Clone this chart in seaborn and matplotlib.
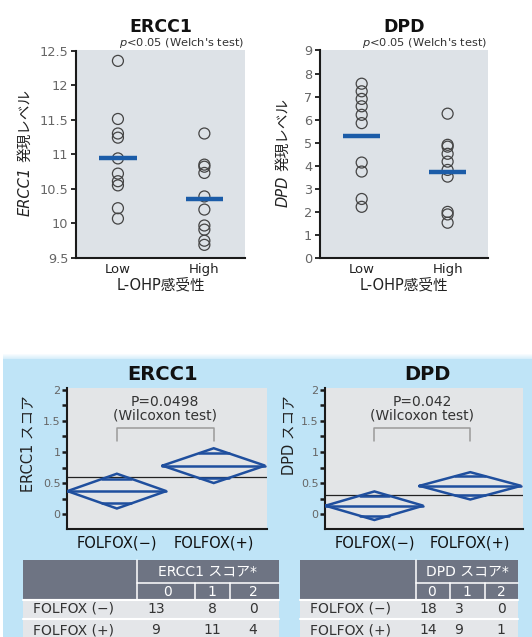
import numpy as np
import pandas as pd
import matplotlib
matplotlib.use('Agg')
import matplotlib.pyplot as plt
import seaborn as sns
from matplotlib.patches import Rectangle

# ---------------- data ----------------
top_groups = ['Low', 'High']
ercc1_low = [12.35, 11.51, 11.30, 11.24, 10.94, 10.72, 10.61, 10.55, 10.22, 10.07]
ercc1_high = [11.30, 10.85, 10.82, 10.73, 10.39, 10.20, 9.97, 9.91, 9.75, 9.69]
ercc1_top_mean = [10.95, 10.36]
dpd_low = [7.56, 7.23, 6.90, 6.58, 6.21, 5.85, 4.14, 3.75, 2.56, 2.22]
dpd_high = [6.26, 4.91, 4.83, 4.52, 4.18, 3.82, 3.53, 2.00, 1.89, 1.53]
dpd_top_mean = [5.30, 3.75]
ercc1_top_ticks = [9.5, 10, 10.5, 11, 11.5, 12, 12.5]
ercc1_top_ticklabels = ['9.5', '10', '10.5', '11', '11.5', '12', '12.5']
dpd_top_ticks = [0, 1, 2, 3, 4, 5, 6, 7, 8, 9]
dpd_top_ticklabels = [str(v) for v in dpd_top_ticks]

bottom_groups = ['FOLFOX(−)', 'FOLFOX(+)']
ercc1_score_mean = [0.37, 0.78]
ercc1_score_ci = [0.28, 0.28]
ercc1_grand_mean = 0.59
dpd_score_mean = [0.135, 0.455]
dpd_score_ci = [0.23, 0.22]
dpd_grand_mean = 0.30
diamond_halfwidth = [0.51, 0.53]
bottom_ticks = [0, 0.5, 1, 1.5, 2]
bottom_ticklabels = ['0', '0.5', '1', '1.5', '2']
bottom_minor = [0.25, 0.75, 1.25, 1.75]
ercc1_ptext = ['P=0.0498', '(Wilcoxon test)']
dpd_ptext = ['P=0.042', '(Wilcoxon test)']

table_rows = ['FOLFOX (−)', 'FOLFOX (+)']
score_levels = ['0', '1', '2']
ercc1_counts = [[13, 8, 0], [9, 11, 4]]
dpd_counts = [[18, 3, 0], [14, 9, 1]]

# ---------------- style ----------------
sns.set_theme(style='ticks')
plt.rcParams['font.family'] = ['DejaVu Sans', 'Noto Sans CJK JP']
plt.rcParams['mathtext.fontset'] = 'dejavusans'

W, H = 532, 637
fig = plt.figure(figsize=(W / 100, H / 100), dpi=100)
fig.patch.set_facecolor('white')


def px_rect(x0, y0, x1, y1):
    return [x0 / W, 1 - y1 / H, (x1 - x0) / W, (y1 - y0) / H]


def fy(y):
    return 1 - y / H


bg = fig.add_axes([0, 0, 1, 1], zorder=-10)
bg.set_xlim(0, W)
bg.set_ylim(H, 0)
bg.axis('off')
BLUE_BG = '#bfe4f7'
bg.add_patch(Rectangle((3, 359), W - 3, H - 359, color=BLUE_BG, lw=0))
for k in range(5):
    bg.add_patch(Rectangle((3, 354 + k), W - 3, 1, color=BLUE_BG, lw=0, alpha=0.12 * (k + 1)))

INK = '#1a1a1a'
MEAN_BLUE = '#1b5ca8'
DIAM_BLUE = '#1f4f9e'


def top_panel(rect, low, high, means, ticks, ticklabels, title, ylab_it, ylab_rest, ylab_x):
    ax = fig.add_axes(px_rect(*rect))
    df = pd.DataFrame({'group': ['Low'] * len(low) + ['High'] * len(high),
                       'value': low + high})
    sns.stripplot(data=df, x='group', y='value', order=top_groups, jitter=False,
                  size=7.9, color='white', edgecolor='#444444', linewidth=0.9,
                  ax=ax, zorder=2)
    for c in ax.collections:
        c.set_facecolor('none')
    xs = np.arange(len(top_groups))
    ax.hlines(means, xs - 0.215, xs + 0.215, color=MEAN_BLUE, lw=3.2, zorder=3)
    ax.set_xlim(-0.485, 1.47)
    ax.set_ylim(ticks[0], ticks[-1])
    ax.set_yticks(ticks)
    ax.set_yticklabels(ticklabels)
    ax.set_facecolor('#dde2e7')
    for s in ['top', 'right']:
        ax.spines[s].set_visible(False)
    for s in ['left', 'bottom']:
        ax.spines[s].set_linewidth(1.5)
        ax.spines[s].set_color(INK)
    ax.tick_params(axis='y', length=3.6, width=1.3, color=INK, labelcolor='#666666',
                   labelsize=9.3, pad=2)
    ax.tick_params(axis='x', length=0, labelsize=9.5, labelcolor='#222222', pad=3.6)
    ax.set_xlabel('')
    ax.set_ylabel('')
    x0, y0, x1, y1 = rect
    cx = (x0 + x1) / 2
    fig.text(cx / W, fy(31.7), title, ha='center', va='baseline', fontsize=12.5,
             fontweight='bold', color='#111111')
    fig.text(x1 / W - 1.5 / W, fy(45.7), r"$p$<0.05 (Welch's test)", ha='right',
             va='baseline', fontsize=8.2, color='#333333')
    fig.text(cx / W, fy(285), 'L-OHP感受性', ha='center', va='center',
             fontsize=10.5, color='#222222')
    # y label: italic gene name + normal text
    t1 = fig.text(ylab_x / W, fy(ylab_it), title, rotation=90, ha='center',
                  va='bottom', style='italic', fontsize=10.5, color='#222222')
    fig.canvas.draw()
    bb = t1.get_window_extent(fig.canvas.get_renderer())
    fig.text(ylab_x / W, (bb.y1 + 5) / H, ylab_rest, rotation=90, ha='center',
             va='bottom', fontsize=10.5, color='#222222')
    return ax


top_panel((76, 50.5, 245, 258), ercc1_low, ercc1_high, ercc1_top_mean,
          ercc1_top_ticks, ercc1_top_ticklabels, 'ERCC1', 216, '発現レベル', 25)
top_panel((320, 50.5, 488, 258), dpd_low, dpd_high, dpd_top_mean,
          dpd_top_ticks, dpd_top_ticklabels, 'DPD', 207, '発現レベル', 283)


def bottom_panel(rect, means, ci, grand, ylab, title, title_cx, ptext, ylab_x):
    ax = fig.add_axes(px_rect(*rect))
    ax.set_facecolor('#e3e5e7')
    for i, (m, h, w) in enumerate(zip(means, ci, diamond_halfwidth)):
        ax.plot([i - w, i, i + w, i, i - w], [m, m + h, m, m - h, m],
                color=DIAM_BLUE, lw=1.8, solid_joinstyle='miter', zorder=3)
        ax.plot([i - w, i + w], [m, m], color=DIAM_BLUE, lw=1.8, zorder=3)
        o = h / np.sqrt(2)
        f = 1 - o / h
        for yy in (m + o, m - o):
            ax.plot([i - w * f, i + w * f], [yy, yy], color=DIAM_BLUE, lw=1.8, zorder=3)
    ax.axhline(grand, color='#222222', lw=0.9, zorder=2)
    ax.plot([0, 0, 1, 1], [1.17, 1.38, 1.38, 1.17], color='#9a9a9a', lw=1.1)
    ax.text(0.5, 1.80, ptext[0], ha='center', va='center', fontsize=10, color='#333333')
    ax.text(0.5, 1.59, ptext[1], ha='center', va='center', fontsize=10, color='#333333')
    ax.set_xlim(-0.515, 1.55)
    ax.set_ylim(-0.24, 2.03)
    ax.set_xticks([0, 1])
    ax.set_xticklabels(bottom_groups)
    ax.set_yticks(bottom_ticks)
    ax.set_yticklabels(bottom_ticklabels)
    ax.set_yticks(bottom_minor, minor=True)
    for s in ['top', 'right']:
        ax.spines[s].set_visible(False)
    for s in ['left', 'bottom']:
        ax.spines[s].set_linewidth(1.5)
        ax.spines[s].set_color(INK)
    ax.tick_params(axis='y', which='both', length=3.6, width=1.8, color=INK,
                   labelcolor='#666666', labelsize=8, pad=1)
    ax.tick_params(axis='x', length=0, labelsize=10.5, labelcolor='#111111', pad=4.5)
    fig.text(title_cx / W, fy(375), title, ha='center', va='center', fontsize=14,
             fontweight='bold', color='#111111')
    fig.text(ylab_x / W, fy(395), ylab, rotation=90, ha='center', va='top',
             fontsize=10.5, color='#222222')
    return ax


bottom_panel((67, 388, 267, 529), ercc1_score_mean, ercc1_score_ci, ercc1_grand_mean,
             'ERCC1 スコア', 'ERCC1', 163, ercc1_ptext, 28)
bottom_panel((325, 388, 523, 529), dpd_score_mean, dpd_score_ci, dpd_grand_mean,
             'DPD スコア', 'DPD', 427, dpd_ptext, 289)


def draw_table(edges, head, counts, head_cx, data_cx):
    x0, x1, x2, x3, x4 = edges
    dark, light = '#6e7483', '#e4e6e9'
    bg.add_patch(Rectangle((x0, 560), x4 - x0, 40, color=dark, lw=0))
    bg.add_patch(Rectangle((x0, 600), x4 - x0, 45, color=light, lw=0))
    wl = 1.1
    bg.plot([x1, x1], [560, 600], color='white', lw=wl)
    bg.plot([x2, x2], [583, 600], color='white', lw=wl)
    bg.plot([x3, x3], [583, 600], color='white', lw=wl)
    bg.plot([x1, x4], [583, 583], color='white', lw=wl)
    bg.plot([x0, x4], [600, 600], color='white', lw=wl * 1.4)
    bg.plot([x0, x4], [618.5, 618.5], color='white', lw=wl * 1.4)
    bg.text((x1 + x4) / 2, 571.5, head, ha='center', va='center', fontsize=10,
            color='white')
    for cx, lv in zip(head_cx, score_levels):
        bg.text(cx, 591.5, lv, ha='center', va='center', fontsize=10, color='white')
    for r, (name, row) in enumerate(zip(table_rows, counts)):
        yy = [609, 630][r]
        bg.text(x0 + 10, yy, name, ha='left', va='center', fontsize=10, color='#333333')
        for cx, v in zip(data_cx, row):
            bg.text(cx, yy, str(v), ha='center', va='center', fontsize=10, color='#333333')


draw_table((23, 137, 195, 230, 279), 'ERCC1 スコア*', ercc1_counts,
           (168, 212, 253), (156, 212, 253))
draw_table((300, 416, 450, 485, 518), 'DPD スコア*', dpd_counts,
           (432, 467, 501), (428, 459, 501))

fig.savefig('out.png', dpi=100, facecolor='white')
